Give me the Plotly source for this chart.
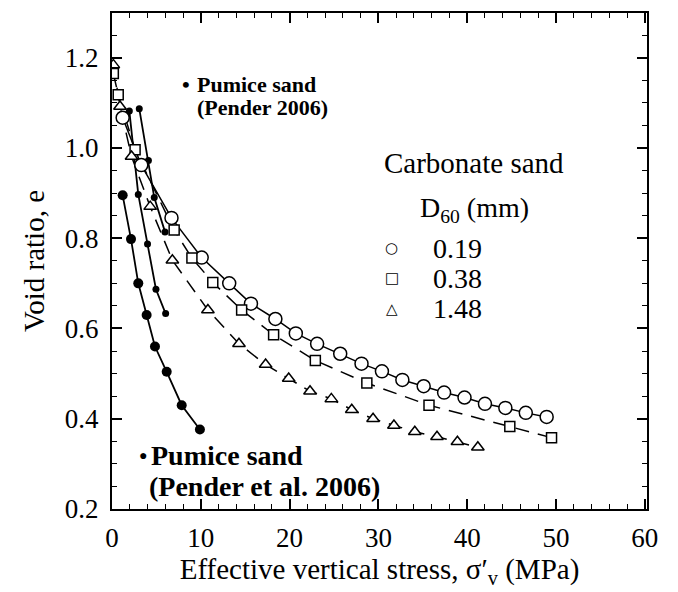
import plotly.graph_objects as go

# ---- data ----
circ_x = [1.2, 3.3, 6.7, 10.1, 13.2, 15.65, 18.4, 20.7, 23.1, 25.7, 28.1, 30.4, 32.7, 35.1, 37.4, 39.7, 42.0, 44.3, 46.6, 48.95]
circ_y = [1.067, 0.962, 0.845, 0.757, 0.700, 0.655, 0.621, 0.589, 0.566, 0.544, 0.522, 0.505, 0.486, 0.472, 0.458, 0.447, 0.433, 0.424, 0.413, 0.404]

sq_x = [0.15, 0.7, 2.6, 7.0, 9.0, 11.35, 14.6, 18.2, 22.9, 28.7, 35.7, 44.8, 49.5]
sq_y = [1.165, 1.118, 0.996, 0.818, 0.756, 0.702, 0.641, 0.586, 0.529, 0.479, 0.430, 0.383, 0.358]

tri_x = [0.15, 0.9, 2.2, 4.3, 6.8, 10.8, 14.3, 17.3, 19.9, 22.3, 24.7, 27.0, 29.4, 31.75, 34.1, 36.6, 38.9, 41.2]
tri_y = [1.184, 1.092, 0.981, 0.870, 0.751, 0.641, 0.566, 0.520, 0.489, 0.461, 0.444, 0.420, 0.400, 0.385, 0.371, 0.360, 0.349, 0.337]

# Pumice sand (Pender et al. 2006) - large dots
pa_x = [1.2, 2.14, 2.96, 3.9, 4.84, 6.16, 7.85, 9.9]
pa_y = [0.895, 0.798, 0.700, 0.630, 0.560, 0.504, 0.430, 0.376]

# Pumice sand (Pender 2006) - small dots, two tests
pb1_x = [1.95, 2.96, 4.0, 4.95, 6.04]
pb1_y = [1.082, 0.897, 0.787, 0.687, 0.633]
pb2_x = [3.07, 4.1, 4.76, 5.97]
pb2_y = [1.087, 0.972, 0.890, 0.814]

legend_labels = ["0.19", "0.38", "1.48"]
legend_symbols = ["○", "□", "△"]
x_ticks = [0, 10, 20, 30, 40, 50, 60]
y_ticks = [0.2, 0.4, 0.6, 0.8, 1.0, 1.2]

FONT = "Liberation Serif, Times New Roman, serif"
BLACK = "black"

fig = go.Figure()

# carbonate sand curves (lines first)
fig.add_trace(go.Scatter(x=circ_x, y=circ_y, mode="lines", showlegend=False,
                         line=dict(color=BLACK, width=1.5)))
fig.add_trace(go.Scatter(x=sq_x, y=sq_y, mode="lines", showlegend=False,
                         line=dict(color=BLACK, width=1.5, dash="14px,9px")))
fig.add_trace(go.Scatter(x=tri_x, y=tri_y, mode="lines", showlegend=False,
                         line=dict(color=BLACK, width=1.5, dash="14px,9px")))

# pumice curves
fig.add_trace(go.Scatter(x=pa_x, y=pa_y, mode="lines+markers", showlegend=False,
                         line=dict(color=BLACK, width=1.8),
                         marker=dict(symbol="circle", size=10, color=BLACK)))
for px_, py_ in [(pb1_x, pb1_y), (pb2_x, pb2_y)]:
    fig.add_trace(go.Scatter(x=px_, y=py_, mode="lines+markers", showlegend=False,
                             line=dict(color=BLACK, width=1.8),
                             marker=dict(symbol="circle", size=7, color=BLACK)))

# carbonate markers (white-filled, on top)
mk_line = dict(color=BLACK, width=1.5)
fig.add_trace(go.Scatter(x=circ_x, y=circ_y, mode="markers", showlegend=False,
                         marker=dict(symbol="circle", size=13, color="white", line=mk_line)))
fig.add_trace(go.Scatter(x=sq_x, y=sq_y, mode="markers", showlegend=False,
                         marker=dict(symbol="square", size=10, color="white", line=mk_line)))
fig.add_trace(go.Scatter(x=tri_x, y=tri_y, mode="markers", showlegend=False,
                         marker=dict(symbol="triangle-up", size=11, color="white", line=mk_line)))

axis_common = dict(
    showline=True, linecolor=BLACK, linewidth=2, mirror="allticks",
    ticks="inside", ticklen=10, tickwidth=1.5, tickcolor=BLACK,
    showgrid=False, zeroline=False,
    tickfont=dict(family=FONT, size=27, color=BLACK),
)

fig.update_xaxes(**axis_common, range=[0, 60.25], tickvals=x_ticks,
                 ticktext=[str(v) for v in x_ticks],
                 minor=dict(dtick=2, ticklen=5, tickwidth=1.2, tickcolor=BLACK, ticks="inside"),
                 ticklabelstandoff=4,
                 title=dict(text="Effective vertical stress, σ′<sub>v</sub> (MPa)",
                            font=dict(family=FONT, size=29, color=BLACK), standoff=2))
fig.update_yaxes(**axis_common, range=[0.2, 1.299], tickvals=y_ticks,
                 ticktext=[f"{v:.1f}" for v in y_ticks],
                 minor=dict(dtick=0.05, tick0=0.2, ticklen=5, tickwidth=1.2, tickcolor=BLACK, ticks="inside"),
                 ticklabelstandoff=6,
                 title=dict(text="Void ratio, e",
                            font=dict(family=FONT, size=29, color=BLACK), standoff=12))

ann = []
def add_text(text, x, y, size, bold=False, xanchor="left", family=FONT):
    ann.append(dict(text=f"<b>{text}</b>" if bold else text, x=x, y=y,
                    xref="paper", yref="paper", xanchor=xanchor, yanchor="middle",
                    showarrow=False, font=dict(family=family, size=size, color=BLACK)))

# key for the carbonate sand series
add_text("Carbonate sand", 0.505, 0.697, 29)
add_text("D<sub>60</sub> (mm)", 0.572, 0.604, 28)
key_y = [0.526, 0.465, 0.404]
for sym, lab, ky in zip(legend_symbols, legend_labels, key_y):
    add_text(sym, 0.523, ky, 15, xanchor="center", family="DejaVu Sans")
    add_text(lab, 0.596, ky, 28)

add_text("•", 0.128, 0.855, 22, bold=True)
add_text("Pumice sand", 0.155, 0.855, 22, bold=True)
add_text("(Pender 2006)", 0.155, 0.809, 22, bold=True)
add_text("●", 0.046, 0.108, 14, bold=True)
add_text("Pumice sand", 0.070, 0.108, 28, bold=True)
add_text("(Pender et al. 2006)", 0.066, 0.046, 28, bold=True)

fig.update_layout(
    width=678, height=592,
    margin=dict(l=112, r=31, t=11, b=83),
    paper_bgcolor="white", plot_bgcolor="white",
    font=dict(family=FONT, color=BLACK),
    annotations=ann,
    showlegend=False,
)

fig.write_html("out.html")
